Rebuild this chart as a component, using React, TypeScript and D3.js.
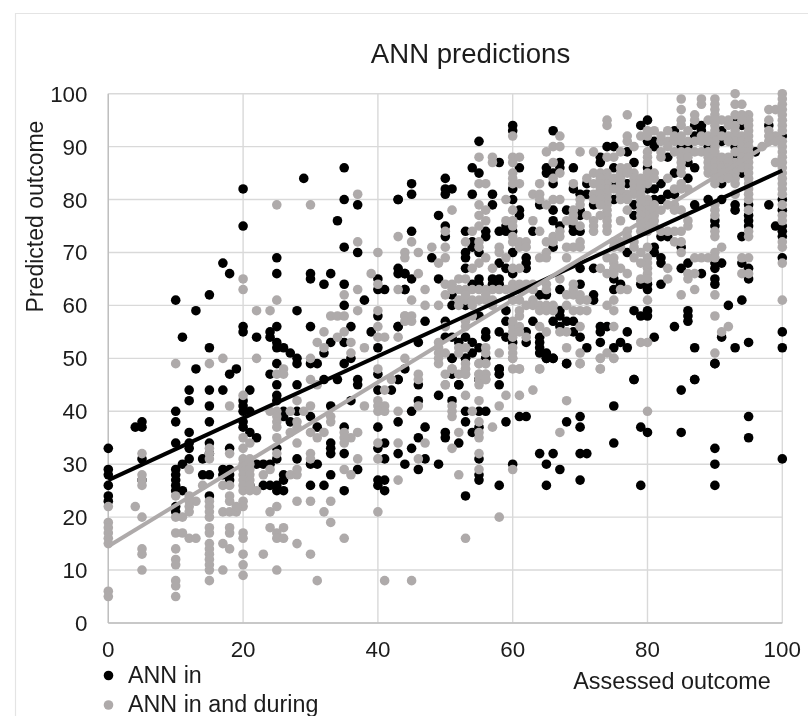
import React from "react";
import * as d3 from "d3";

const xTicks = [0, 20, 40, 60, 80, 100];
const yTicks = [0, 10, 20, 30, 40, 50, 60, 70, 80, 90, 100];

// trendline end values, [x, y]
const annInTrend: [number, number][] = [[0, 27], [100, 85.5]];
const annInDuringTrend: [number, number][] = [[0, 14.5], [100, 92]];

// one [assessed, predicted] per dot
const annInPoints: [number, number][] = [
  [10,61],[11,54],[13,59],[15,62],[15,52],[17,68],[18,66],[20,82],[20,75],[20,56],[20,55],[22,54],[24,55],[24,54],
  [25,69],[25,66],[25,56],[25,53],[25,52],[26,52],[27,51],[28,50],[28,59],[29,84],[30,66],[30,65],[30,56],[32,64],
  [33,66],[33,53],[32,51],[34,76],[35,86],[35,80],[35,71],[35,64],[35,60],[35,53],[36,56],[37,79],[37,70],[38,61],
  [39,55],[40,65],[40,63],[41,63],[40,58],[40,52],[43,80],[43,67],[44,66],[43,56],[44,63],
  [25,49],[28,49],[30,49],[31,49],[35,49],[36,50],[13,48],[19,48],[18,47],[24,47],[25,45],[28,45],[32,46],[34,46],
  [37,46],[37,45],[40,47],[43,46],[12,44],[12,42],[15,44],[17,44],[21,44],[15,41],[20,42],[20,41],[21,40],[20,40],
  [25,43],[25,42],[26,40],[26,39],[27,38],[33,41],[36,42],[10,40],[10,38],[15,38],[40,44],[42,44],[28,40],[30,39],
  [31,37],[35,37],[40,37],[43,38],[5,38],[4,37],[5,37],[20,38],[20,37],[21,36],[22,35],[12,36],[12,34],[10,34],
  [12,33],[15,34],[18,33],[0,33],[41,34],[33,34],[33,33],[33,32],[40,33],[25,33],[35,32],[43,32],[12,31],[14,31],
  [28,31],[25,31],[41,31],[15,32],[5,31],[44,30],[11,30],[10,29],[10,28],[10,27],[10,26],[10,25],[11,25],[0,29],
  [0,28],[0,26],[0,24],[0,23],[14,28],[15,28],[17,29],[18,29],[17,28],[18,28],[18,27],[22,30],[23,30],[24,30],
  [30,30],[31,30],[33,28],[26,28],[37,29],[26,27],[21,26],[23,26],[24,26],[25,26],[25,25],[26,25],[30,26],[32,26],
  [35,25],[40,27],[41,27],[40,26],[41,25],[15,24],[10,22],[10,21],[5,27],
  [44,48],[46,45],[46,42],[51,47],[49,43],[51,42],[52,45],[53,40],[53,38],[55,40],[56,40],[58,48],[58,47],[58,45],
  [51,50],[53,50],[56,50],[55,46],[45,40],[47,37],[46,35],[50,36],[50,35],[54,36],[55,37],[59,38],[61,39],[62,39],
  [68,38],[70,39],[70,37],[75,41],[75,34],[79,37],[80,36],[85,36],[85,44],[87,46],[90,49],[78,46],[68,49],[65,50],
  [66,50],[95,39],[95,35],[90,33],[90,30],[90,26],[100,31],[79,26],[70,27],[70,32],[71,32],[67,29],[65,30],[64,32],
  [66,32],[65,26],[60,30],[58,26],[55,27],[55,28],[55,31],[53,24],[49,30],[47,31],[46,29],[45,33],[52,34],
  [60,94],[60,93],[66,93],[55,91],[45,83],[45,81],[50,84],[50,82],[50,81],[51,82],[54,86],[55,85],[58,87],[61,86],
  [54,81],[57,81],[57,79],[60,82],[60,80],[61,78],[61,77],[49,77],[50,75],[45,74],[53,74],[56,74],[58,74],[59,75],
  [59,74],[60,74],[63,74],[43,80],[65,86],[65,85],[67,87],[67,86],[66,85],[69,86],[66,83],[69,82],[70,81],[71,81],
  [73,88],[73,87],[71,83],[64,79],[66,78],[68,78],[66,76],[67,75],[69,75],[69,74],[70,74],[72,79],[70,78],[70,77],
  [80,95],[79,94],[75,90],[74,90],[77,89],[78,87],[80,86],[81,91],[80,91],[81,90],[83,88],[84,85],[86,84],[87,86],
  [86,87],[82,83],[81,82],[80,82],[77,83],[75,83],[75,86],[88,94],[87,94],[90,95],[93,95],[94,94],[91,93],[88,93],
  [87,92],[84,93],[85,90],[86,90],[89,90],[91,91],[93,90],[93,88],[96,89],[94,85],[91,83],[89,80],[87,79],[91,80],
  [83,81],[84,81],[82,80],[81,80],[93,79],[93,78],[95,79],[95,77],[95,76],[95,75],[98,79],[99,75],[100,80],[100,78],
  [100,75],[100,74],[90,76],[90,75],[78,79],[78,77],[76,81],[75,80],[100,92],[98,94],
  [50,73],[56,73],[54,72],[54,71],[55,70],[53,70],[53,69],[48,69],[58,68],[53,67],[60,70],[62,69],[62,68],[62,67],
  [59,67],[43,66],[44,66],[45,65],[49,65],[55,65],[55,64],[57,65],[58,65],[57,64],[58,64],[54,64],[60,66],[44,63],
  [51,62],[51,60],[53,60],[65,62],[64,62],[67,63],[70,64],[70,67],[72,67],[72,62],[72,61],[66,71],[47,57],[43,56],
  [50,57],[46,53],[59,59],[59,57],[63,57],[55,58],[67,59],[67,58],[66,57],[68,57],[69,57],[67,56],[64,54],[69,55],
  [70,54],[71,52],[73,53],[56,55],[56,54],[58,55],[59,54],[60,53],[62,55],[62,53],[64,53],[64,52],[65,51],[64,51],
  [65,50],[66,50],[68,49],[53,54],[54,53],[52,53],[50,54],[51,54],[55,52],[54,51],[53,50],[51,50],[56,50],[58,48],
  [52,45],[55,46],[43,46],
  [77,70],[81,71],[81,70],[82,69],[82,68],[86,68],[85,67],[90,68],[90,67],[91,68],[94,68],[95,67],[88,66],[90,65],
  [90,64],[95,65],[82,64],[79,64],[80,63],[80,64],[75,63],[76,64],[75,65],[92,60],[94,61],[78,59],[80,59],[80,58],
  [79,58],[86,59],[86,58],[86,57],[84,56],[77,55],[81,54],[100,55],[100,52],[95,53],[93,52],[91,54],[87,52],[76,53],
  [75,52],[77,52],[73,56],[74,56],[73,55],[90,49],[78,46],[87,46],[100,69],[94,73],[100,73],[85,71],[82,73],[83,73],
];

const annInDuringPoints: [number, number][] = [
  [20,65],[20,63],[22,59],[24,59],[25,79],[25,61],[30,79],[37,81],[37,72],[40,70],[39,66],[40,64],[37,63],[43,73],
  [44,70],[43,63],[35,62],[33,58],[34,58],[35,58],[37,59],[40,59],[44,58],[32,55],[40,56],[31,53],[32,52],[34,54],
  [35,55],[36,53],[36,51],[38,52],[40,54],[41,54],[43,54],[17,50],[22,50],[30,50],
  [10,49],[15,49],[26,48],[26,47],[25,47],[30,46],[31,45],[40,48],[42,46],[41,44],[40,42],[40,41],[40,40],[41,41],
  [41,40],[38,41],[43,40],[20,43],[18,41],[28,42],[30,41],[29,40],[27,40],[24,40],[25,40],[25,39],[25,38],[25,37],
  [28,38],[28,37],[33,39],[33,38],[30,36],[31,35],[32,36],[27,36],[37,36],[36,35],[35,36],[35,35],[35,34],[20,35],
  [21,34],[20,33],[25,35],[28,34],[40,34],[43,34],[5,32],[15,33],[18,32],[30,32],[30,31],[37,31],[40,31],
  [20,31],[21,31],[20,30],[21,30],[20,29],[21,29],[20,28],[21,28],[20,27],[21,27],[20,26],[21,26],[20,25],[21,25],
  [22,25],[12,29],[23,28],[24,29],[27,28],[28,28],[28,29],[35,29],[36,28],[43,27],[5,28],[5,27],[5,26],[14,26],
  [17,26],[18,26],[15,32],[15,31],[25,32],[0,22],[0,19],[0,18],[0,17],[0,16],[0,15],[0,6],[0,5],[4,22],[5,20],[5,14],
  [5,13],[5,10],[10,24],[10,20],[11,20],[10,17],[11,17],[12,16],[13,16],[10,14],[10,12],[10,11],[10,8],[10,7],[10,5],
  [12,24],[13,23],[12,23],[12,22],[12,21],[15,23],[15,22],[15,21],[15,20],[15,18],[15,17],[15,15],[15,14],[15,13],
  [15,12],[15,11],[15,10],[15,8],[17,21],[18,21],[19,21],[18,24],[18,23],[17,15],[18,14],[18,18],[18,17],[17,10],
  [20,23],[20,22],[19,22],[20,17],[20,16],[20,13],[20,11],[20,9],[23,13],[24,21],[25,22],[24,18],[26,18],[25,17],
  [25,16],[26,16],[25,10],[28,23],[30,23],[32,21],[33,23],[33,19],[28,15],[30,13],[31,8],[35,16],[40,21],[41,8],
  [80,40],[68,42],[63,44],[61,43],[59,43],[58,41],[64,48],[61,48],[60,48],[60,50],[70,49],[73,48],[73,50],[75,50],
  [57,37],[67,36],[60,29],[52,28],[51,33],[47,34],[46,31],[58,20],[53,16],[45,8],[53,43],[55,42],[54,40],[55,38],
  [55,36],[55,35],[55,32],[55,29],[52,36],[51,41],[51,40],[51,39],[50,47],[50,45],[49,49],[51,48],[53,49],[53,48],
  [53,47],[55,49],[56,49],[55,47],[56,47],[55,46],[56,46],[55,45],[46,47],[46,46],[46,41],
  [60,92],[67,92],[66,90],[67,90],[65,89],[70,89],[72,89],[55,88],[57,88],[57,87],[60,88],[61,88],[60,87],[66,87],
  [60,85],[60,84],[60,83],[61,83],[55,83],[56,83],[67,85],[66,84],[64,83],[69,83],[71,84],[72,85],[73,85],[72,83],
  [63,81],[64,81],[64,80],[65,79],[66,80],[67,80],[59,80],[55,79],[60,78],[51,78],[56,78],[55,77],[56,76],[63,76],
  [55,75],[59,76],[60,76],[60,75],[54,74],[50,74],[64,74],[67,74],[70,80],[70,79],[69,78],[69,77],[69,76],[68,76],
  [71,77],[72,76],[72,75],[72,74],[72,81],[72,80],[70,75],[66,73],
  [45,72],[48,71],[50,71],[46,70],[44,69],[50,69],[49,68],[53,72],[55,72],[55,71],[56,69],[55,68],[54,67],[58,71],
  [58,70],[59,69],[60,72],[60,73],[61,72],[62,72],[61,71],[62,71],[65,72],[66,72],[65,70],[67,73],[68,71],[69,71],
  [70,72],[70,71],[64,69],[65,69],[60,67],[61,67],[57,67],[68,69],[46,66],[47,63],[45,61],[47,60],[49,60],[50,62],
  [50,64],[51,64],[52,65],[53,65],[51,63],[52,63],[53,63],[54,63],[55,63],[56,63],[57,63],[58,63],[52,61],[53,61],
  [54,61],[55,61],[56,61],[53,62],[56,62],[52,60],[54,60],[57,61],[57,60],[60,64],[61,64],[62,64],[63,64],[59,63],
  [60,63],[61,63],[60,61],[61,61],[63,63],[63,61],[63,60],[64,60],[65,60],[66,60],[64,59],[65,59],[66,59],[68,60],
  [69,59],[70,59],[71,59],[65,64],[65,63],[67,65],[69,64],[69,63],[69,62],[70,62],[70,61],[71,61],[68,62],[44,58],
  [45,58],[44,57],[45,57],[53,57],[54,58],[53,56],[50,56],[49,53],[49,52],[49,51],[50,51],[52,52],[53,52],[52,51],
  [44,50],[49,50],[56,52],[56,51],[58,51],[60,52],[60,51],[60,50],[60,54],[60,55],[60,56],[60,57],[61,58],[61,59],
  [62,60],[61,56],[61,55],[62,54],[64,56],[65,55],[67,55],[68,55],[70,56],[70,51],[68,52],[70,49],[64,48],[61,48],
  [51,48],[52,47],[53,48],[53,47],[55,49],[56,49],[55,47],[56,47],[56,46],[50,45],
  [100,71],[100,68],[100,61],[90,73],[90,70],[91,71],[87,69],[88,69],[89,69],[90,69],[94,69],[95,69],[95,73],[94,66],
  [95,66],[83,67],[83,65],[86,66],[86,65],[87,66],[87,63],[85,62],[90,62],[80,61],[75,61],[74,60],[75,59],[90,58],
  [92,56],[91,55],[75,56],[79,53],[80,53],[90,51],[74,51],[75,50],[73,50],[73,48],[80,71],[80,69],[80,68],[80,67],
  [80,66],[80,65],[79,70],[79,68],[79,65],[78,69],[76,67],[75,68],[75,67],[74,69],[75,69],[77,66],[77,63],[76,63],
  [73,67],[74,66],[75,66],[85,72],[84,72],[85,70],
  [74,95],[74,94],[77,96],[75,88],[74,88],[76,89],[76,86],[77,92],[77,91],[78,90],[79,92],[80,92],[81,93],[80,93],
  [80,89],[80,88],[80,87],[78,85],[78,84],[78,83],[78,82],[78,81],[74,85],[74,84],[74,83],[74,82],[74,81],[76,81],
  [76,80],[77,81],[77,80],[80,85],[80,84],[80,83],[81,85],[81,84],[80,80],[80,79],[80,78],[80,77],[80,76],[80,75],
  [80,74],[79,79],[79,78],[79,77],[79,76],[79,75],[79,74],[81,79],[81,78],[81,77],[81,76],[81,75],[83,93],[82,91],
  [83,91],[84,91],[85,91],[86,91],[87,91],[82,92],[84,92],[86,93],[85,92],[84,89],[85,89],[86,89],[87,89],[88,89],
  [89,89],[85,88],[85,87],[85,86],[85,85],[86,88],[89,88],[89,87],[89,86],[89,85],[90,88],[90,87],[90,86],[90,85],
  [90,84],[90,83],[91,87],[93,94],[93,93],[93,92],[93,91],[93,89],[93,87],[93,86],[93,85],[93,84],[93,83],[94,92],
  [94,91],[94,90],[94,89],[94,88],[94,87],[94,86],[95,96],[95,95],[95,94],[95,93],[95,92],[95,91],[95,90],[95,89],
  [95,88],[95,87],[95,86],[95,85],[95,84],[95,83],[95,82],[95,81],[95,80],[95,78],[95,74],[89,95],[91,95],[87,96],
  [87,95],[88,92],[89,92],[90,92],[92,92],[92,91],[97,90],[98,91],[99,92],[99,91],[98,97],[99,97],[98,95],[98,93],
  [98,92],[99,87],[85,83],[83,84],[82,89],[86,82],[84,82],[85,82],[84,79],[85,78],[84,78],[83,79],[82,78],[81,78],
  [77,78],[76,76],[74,80],[74,79],[74,78],[74,77],[74,76],[74,75],[74,74],[73,77],[83,74],[82,74],[84,74],[85,74],
  [86,75],[86,76],[90,79],[90,78],[90,77],[90,74],[93,81],[85,99],[85,97],[88,99],[88,98],[90,99],[90,98],[93,100],
  [93,98],[94,98],[85,95],[85,94],[82,88],[83,90],[90,97],[90,96],[90,95],[90,94],[90,93],[90,91],[90,90],[90,89],
  [75,84],[75,82],[75,72],[75,71],[76,72],[76,71],[77,74],[77,73],[78,72],[78,71],
  [100,100],[100,99],[100,98],[100,97],[100,96],[100,95],[100,94],[100,93],[100,91],[100,90],[100,89],[100,88],
  [100,87],[100,86],[100,85],[100,84],[100,83],[100,82],[100,81],[100,79],[100,77],[100,76],[100,72],
  [91,88],[91,86],[91,85],[91,84],[92,88],[92,87],[92,86],[92,85],[92,84],[88,91],[89,91],[91,92],[93,96],[94,96],
  [94,95],[92,95],[92,94],[76,84],[76,83],[76,82],[76,85],[77,86],[77,85],[79,84],[79,83],[79,82],[79,81],[79,80],
  [73,84],[73,83],[73,82],[73,81],[73,80],[73,79],
];

const legendLabels = ["ANN in", "ANN in and during"];

const BLACK = "#000000";
const GREY = "#aeaaaa";
const TEXT = "#1c1c1c";
const DOT_R = 4.8;

function App() {
  const x = d3.scaleLinear().domain([0, 100]).range([108.3, 782.3]);
  const y = d3.scaleLinear().domain([0, 100]).range([623, 93.7]);
  const trend = d3.line<[number, number]>().x((d) => x(d[0])).y((d) => y(d[1]));

  return (
    <svg
      width={808}
      height={716}
      style={{ position: "absolute", left: 0, top: 0, background: "#fff", fontFamily: "'Liberation Sans', Arial, sans-serif" }}
    >
      <defs>
        {/* the reference is a soft, scaled-up bitmap */}
        <filter id="soft" x="-2%" y="-2%" width="104%" height="104%">
          <feGaussianBlur stdDeviation={0.45} />
        </filter>
      </defs>

      <g filter="url(#soft)">
        {/* frame of the pasted chart, only top and left show */}
        <path d="M15.5 716V13.5H808" fill="none" stroke="#e4e4e4" strokeWidth={1.2} />

        {xTicks.map((t) => (
          <line key={"gx" + t} x1={x(t)} x2={x(t)} y1={y(0)} y2={y(100)} stroke="#d9d9d9" strokeWidth={1.4} />
        ))}
        {yTicks.map((t) => (
          <line key={"gy" + t} x1={x(0)} x2={x(100)} y1={y(t)} y2={y(t)} stroke="#d9d9d9" strokeWidth={1.4} />
        ))}
        <line x1={x(0)} x2={x(100)} y1={y(0)} y2={y(0)} stroke="#bfbfbf" strokeWidth={1.4} />
        <line x1={x(0)} x2={x(0)} y1={y(0)} y2={y(100)} stroke="#bfbfbf" strokeWidth={1.4} />

        {annInPoints.map((d, i) => (
          <circle key={"a" + i} cx={x(d[0])} cy={y(d[1])} r={DOT_R} fill={BLACK} />
        ))}
        {annInDuringPoints.map((d, i) => (
          <circle key={"b" + i} cx={x(d[0])} cy={y(d[1])} r={DOT_R} fill={GREY} />
        ))}

        <path d={trend(annInTrend) || ""} fill="none" stroke={BLACK} strokeWidth={4} />
        <path d={trend(annInDuringTrend) || ""} fill="none" stroke={GREY} strokeWidth={4} />

        <g fill={TEXT} fontSize={22.4}>
          {xTicks.map((t) => (
            <text key={"tx" + t} x={x(t)} y={657} textAnchor="middle">{t}</text>
          ))}
          {yTicks.map((t) => (
            <text key={"ty" + t} x={87.5} y={y(t) + 8} textAnchor="end">{t}</text>
          ))}
        </g>

        <text x={470.5} y={63} textAnchor="middle" fontSize={27.6} fill={TEXT}>ANN predictions</text>
        <text transform="translate(43,216.5) rotate(-90)" textAnchor="middle" fontSize={23} fill={TEXT}>Predicted outcome</text>
        <text x={672} y={689} textAnchor="middle" fontSize={23.4} fill={TEXT}>Assessed outcome</text>

        <circle cx={108.5} cy={675.5} r={DOT_R} fill={BLACK} />
        <circle cx={108.5} cy={705} r={DOT_R} fill={GREY} />
        <text x={128} y={683} fontSize={23.3} fill={TEXT}>{legendLabels[0]}</text>
        <text x={128} y={712} fontSize={23.3} fill={TEXT}>{legendLabels[1]}</text>
      </g>
    </svg>
  );
}

export default App;
